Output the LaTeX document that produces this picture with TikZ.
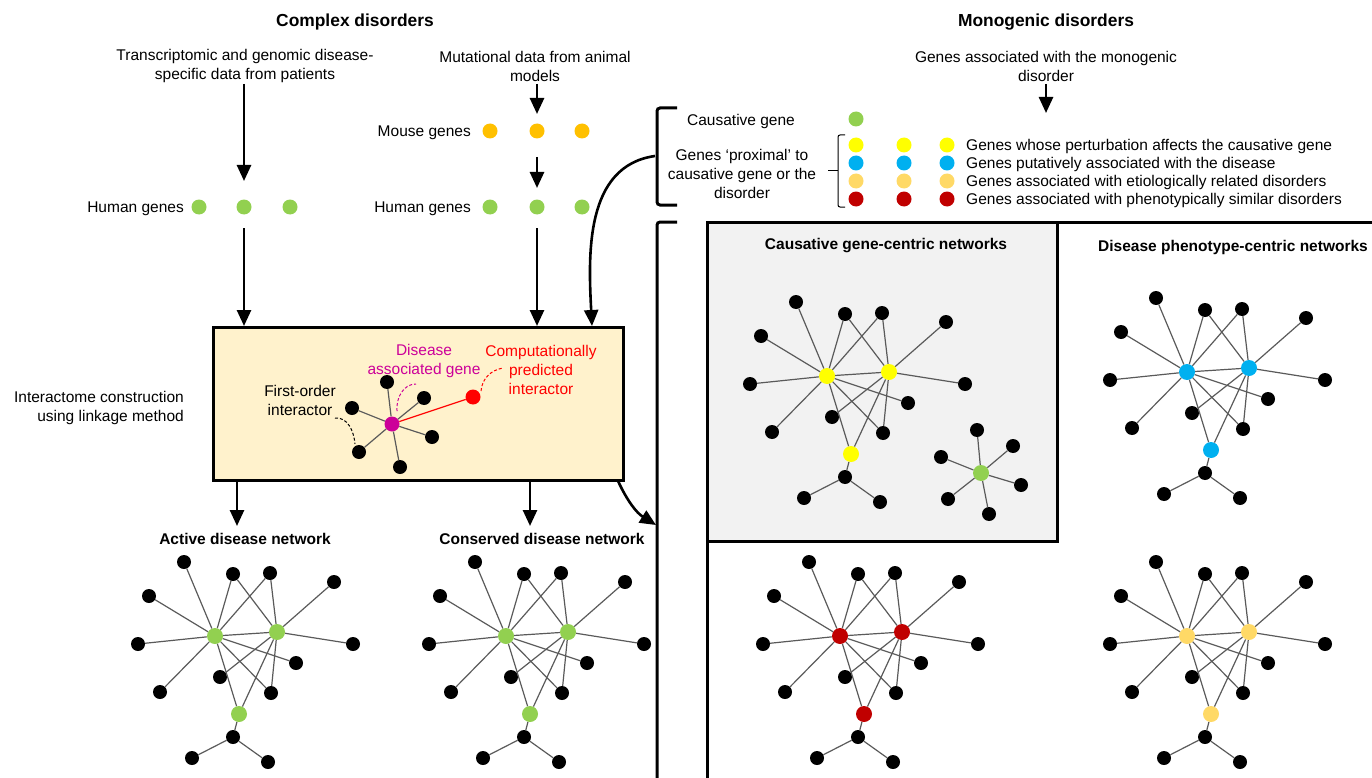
\documentclass[tikz,border=0pt]{standalone}
\usepackage{fontspec}
\setmainfont{Liberation Sans}
\usetikzlibrary{arrows.meta}

\definecolor{gGreen}{RGB}{146,208,80}
\definecolor{gOrange}{RGB}{255,192,0}
\definecolor{gYellow}{RGB}{255,255,0}
\definecolor{gBlue}{RGB}{0,176,240}
\definecolor{gPeach}{RGB}{255,217,102}
\definecolor{gRed}{RGB}{192,0,0}
\definecolor{gMag}{RGB}{204,0,153}
\definecolor{boxFill}{RGB}{255,242,204}
\definecolor{panelGray}{RGB}{242,242,242}
\definecolor{edgeGray}{RGB}{90,90,90}

\tikzset{
  txt/.style={font=\fontsize{15.5}{19}\selectfont, align=center, inner sep=0pt},
  tb/.style={font=\fontsize{15.5}{19}\selectfont\bfseries, align=center, inner sep=0pt},
  ttl/.style={font=\fontsize{17.4}{21}\selectfont\bfseries, align=center, inner sep=0pt},
  gdot/.style={circle, inner sep=0pt, minimum size=15},
  bdot/.style={circle, fill=black, inner sep=0pt, minimum size=14},
  hub/.style={circle, inner sep=0pt, minimum size=16},
  edge/.style={draw=edgeGray, line width=1.2},
  arr/.style={line width=2.6, -{Triangle[width=14pt,length=16pt]}},
  frame/.style={line width=3},
}

% one interaction network; #1,#2 = position of the first hub, #3 = name prefix, #4 = hub colour
\newcommand{\drawnet}[4]{%
  \begin{scope}[shift={(#1,#2)}]
    \node[hub,fill=#4] (#3G1) at (0,0) {};
    \node[hub,fill=#4] (#3G2) at (62,-4) {};
    \node[hub,fill=#4] (#3G3) at (24,78) {};
    \node[bdot] (#3a1) at (-31,-74) {};
    \node[bdot] (#3a2) at (18,-62) {};
    \node[bdot] (#3a3) at (55,-63) {};
    \node[bdot] (#3a4) at (119,-54) {};
    \node[bdot] (#3a5) at (-66,-40) {};
    \node[bdot] (#3a6) at (-77,8) {};
    \node[bdot] (#3a7) at (138,8) {};
    \node[bdot] (#3a8) at (81,27) {};
    \node[bdot] (#3a9) at (5,41) {};
    \node[bdot] (#3a10) at (-55,56) {};
    \node[bdot] (#3a11) at (56,57) {};
    \node[bdot] (#3a12) at (18,101) {};
    \node[bdot] (#3a13) at (-23,122) {};
    \node[bdot] (#3a14) at (53,126) {};
  \end{scope}
  \foreach \nd in {a1,a2,a3,a5,a6,a10,G2,a8,a11,G3} \draw[edge] (#3G1) -- (#3\nd);
  \foreach \nd in {a2,a3,a4,a7,a9,a11,G3} \draw[edge] (#3G2) -- (#3\nd);
  \draw[edge] (#3G3) -- (#3a12);
  \draw[edge] (#3a12) -- (#3a13);
  \draw[edge] (#3a12) -- (#3a14);
}

\begin{document}
\begin{tikzpicture}[x=1pt,y=-1pt]
\useasboundingbox (0,0) rectangle (1372,778);

% ---------- complex disorders ----------
\node[ttl] (tC) at (355,22) {Complex disorders};
\node[txt] (sP) at (245,66) {Transcriptomic and genomic disease-\\specific data from patients};
\node[txt] (sA) at (535,66) {Mutational data from animal\\models};

\coordinate (pA) at (244,84);  \coordinate (pB) at (244,181);
\draw[arr] (pA) -- (pB);
\coordinate (mA) at (537,84);  \coordinate (mB) at (537,114);
\draw[arr] (mA) -- (mB);
\coordinate (mC) at (537,157); \coordinate (mD) at (537,188);
\draw[arr] (mC) -- (mD);

\node[txt, anchor=east] (hgL) at (184,209) {Human genes};
\node[gdot, fill=gGreen] (hl1) at (199,207) {};
\node[gdot, fill=gGreen] (hl2) at (244,207) {};
\node[gdot, fill=gGreen] (hl3) at (290,207) {};

\node[txt, anchor=east] (mgR) at (471,133) {Mouse genes};
\node[gdot, fill=gOrange] (mr1) at (490,131) {};
\node[gdot, fill=gOrange] (mr2) at (537,131) {};
\node[gdot, fill=gOrange] (mr3) at (582,131) {};

\node[txt, anchor=east] (hgR) at (471,209) {Human genes};
\node[gdot, fill=gGreen] (hr1) at (490,207) {};
\node[gdot, fill=gGreen] (hr2) at (537,207) {};
\node[gdot, fill=gGreen] (hr3) at (582,207) {};

% interactome box
\node[draw, line width=3, fill=boxFill, minimum width=410, minimum height=153, inner sep=0pt] (ibox) at (418,403.5) {};
\node[txt, align=right, anchor=east] (il) at (184,408) {Interactome construction\\using linkage method};

\coordinate (lA) at (244,228); \coordinate (lB) at (244,326);
\draw[arr] (lA) -- (lB);
\coordinate (rA) at (537,228); \coordinate (rB) at (537,326);
\draw[arr] (rA) -- (rB);

% small example graph inside the box
\node[bdot] (b1) at (387,382) {};
\node[bdot] (b2) at (424,398) {};
\node[bdot] (b3) at (352,408) {};
\node[bdot] (b4) at (432,437) {};
\node[bdot] (b5) at (359,452) {};
\node[bdot] (b6) at (400,467) {};
\node[hub, fill=gMag, minimum size=15] (mg) at (392,424) {};
\node[hub, fill=red, minimum size=15] (rd) at (473,397) {};
\foreach \nd in {b1,b2,b3,b4,b5,b6} \draw[edge] (mg) -- (\nd);
\draw[red, line width=1.2] (mg) -- (rd);

\node[txt, text=gMag] (tDis) at (424,361) {Disease\\associated gene};
\node[txt, text=red] (tCp) at (541,370) {Computationally\\predicted\\interactor};
\node[txt] (tFo) at (300,400.5) {First-order\\interactor};

\coordinate (dk1) at (335,418); \coordinate (dk2) at (355,444);
\draw[dash pattern=on 3pt off 2pt, line width=1] (dk1) to[out=5,in=95] (dk2);
\coordinate (dm1) at (397,411); \coordinate (dm2) at (416,384);
\draw[gMag, dash pattern=on 3pt off 2pt, line width=1] (dm1) to[out=95,in=180] (dm2);
\coordinate (dr1) at (481,391); \coordinate (dr2) at (503,368);
\draw[red, dash pattern=on 3pt off 2pt, line width=1] (dr1) to[out=85,in=190] (dr2);

% outputs of the box
\coordinate (oA) at (237,481); \coordinate (oB) at (237,526);
\draw[arr] (oA) -- (oB);
\coordinate (oC) at (530,481); \coordinate (oD) at (530,526);
\draw[arr] (oC) -- (oD);
\coordinate (oE) at (618,481); \coordinate (oF) at (656,525);
\draw[arr] (oE) to[out=-65,in=148] (oF);

\node[tb] (nA) at (245,539) {Active disease network};
\node[tb] (nC) at (542,539) {Conserved disease network};

\drawnet{215}{636}{ac}{gGreen}
\drawnet{506}{636}{co}{gGreen}

% ---------- monogenic disorders ----------
\node[ttl] (tM) at (1046,22) {Monogenic disorders};
\node[txt] (sM) at (1046,66) {Genes associated with the monogenic\\disorder};
\coordinate (gA) at (1046,84); \coordinate (gB) at (1046,113);
\draw[arr] (gA) -- (gB);

% legend
\draw[frame, rounded corners=3] (677,108) -- (657,108) -- (657,205) -- (677,205);
\node[txt] (lc) at (741,121) {Causative gene};
\node[txt] (lp) at (742,173.5) {Genes ‘proximal’ to\\causative gene or the\\disorder};
\draw[line width=1, rounded corners=2] (845,135) -- (838,135) -- (838,207) -- (845,207);
\draw[line width=1] (838,171) -- (828,171);

\node[gdot, fill=gGreen] (lg) at (856,119) {};
\foreach \c/\yy/\nm in {gYellow/145/ly, gBlue/163/lb, gPeach/181/lo, gRed/199/lr}{
  \node[gdot, fill=\c] (\nm1) at (856,\yy) {};
  \node[gdot, fill=\c] (\nm2) at (904,\yy) {};
  \node[gdot, fill=\c] (\nm3) at (947,\yy) {};
}
\node[txt, anchor=west] (ty) at (966,146.5) {Genes whose perturbation affects the causative gene};
\node[txt, anchor=west] (tbl) at (966,164.5) {Genes putatively associated with the disease};
\node[txt, anchor=west] (to) at (966,182.5) {Genes associated with etiologically related disorders};
\node[txt, anchor=west] (tr) at (966,200.5) {Genes associated with phenotypically similar disorders};

\coordinate (lgo) at (655,156); \coordinate (lgi) at (592,326);
\draw[arr] (lgo) to[out=188,in=93] (lgi);

% network panels
\draw[frame, rounded corners=3] (677,222) -- (657,222) -- (657,782);
\node[draw, line width=3, fill=panelGray, minimum width=350, minimum height=319, inner sep=0pt] (gbox) at (882,381.5) {};
\draw[frame] (707,782) -- (707,222) -- (1376,222);

\node[tb] (nt1) at (886,246) {Causative gene-centric networks};
\node[tb] (nt2) at (1233,247) {Disease phenotype-centric networks};

\drawnet{827}{376}{ye}{gYellow}
\drawnet{1187}{372}{bl}{gBlue}
\drawnet{840}{636}{re}{gRed}
\drawnet{1187}{636}{pe}{gPeach}

% causative gene with its direct partners
\node[hub, fill=gGreen] (cg) at (981,473) {};
\node[bdot] (c1) at (977,430) {};
\node[bdot] (c2) at (1013,446) {};
\node[bdot] (c3) at (941,457) {};
\node[bdot] (c4) at (1021,485) {};
\node[bdot] (c5) at (948,499) {};
\node[bdot] (c6) at (989,514) {};
\foreach \nd in {c1,c2,c3,c4,c5,c6} \draw[edge] (cg) -- (\nd);

\end{tikzpicture}
\end{document}
